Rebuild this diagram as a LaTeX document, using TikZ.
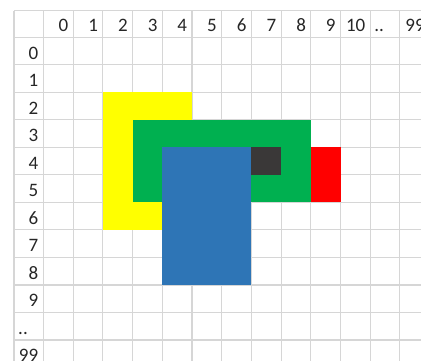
\documentclass[tikz,border=0pt]{standalone}
\usepackage{fontspec}
\setmainfont{Carlito}
\definecolor{gridgray}{RGB}{214, 214, 214}
\definecolor{cellyellow}{RGB}{255, 255, 0}
\definecolor{cellgreen}{RGB}{0, 176, 80}
\definecolor{cellblue}{RGB}{46, 117, 182}
\definecolor{cellred}{RGB}{255, 0, 0}
\definecolor{celldark}{RGB}{58, 56, 56}
\usetikzlibrary{positioning, calc}
\tikzset{
  gridline/.style={draw=gridgray, line width=1.1pt},
  colhead/.style={anchor=base east, inner sep=0pt, text=black!85, font=\fontsize{19}{19}\selectfont},
  rowhead/.style={colhead},
  dotlabel/.style={colhead, anchor=base west},
}

\begin{document}
\begin{tikzpicture}[x=29.7pt, y=-27.52pt]
  \useasboundingbox (-1.4646,-1.3554) rectangle (12.7104,11.726);
  \clip (-1.4646,-1.3554) rectangle (12.7104,11.726);
  % sheet grid
  \draw[gridline] (-0.9933,-0.9666) -- (-0.9933,12);
  \foreach \c in {0,...,13}
    \draw[gridline] (\c,-0.9666) -- (\c,12);
  \draw[gridline] (-0.9933,-0.9666) -- (14,-0.9666);
  \foreach \r in {0,...,12}
    \draw[gridline] (-0.9933,\r) -- (14,\r);
  % filled ranges
  \fill[cellyellow] (2,2) rectangle (5,7);
  \fill[cellgreen] (3,3) rectangle (9,6);
  \fill[cellblue] (4,4) rectangle (7,9);
  \fill[celldark] (7,4) rectangle (8,5);
  \fill[cellred] (9,4) rectangle (10,6);
  % headers
  \foreach \k in {0,...,10}
    \node[colhead] (col\k) at (\k+0.842,-0.203) {\k};
  \node[dotlabel] (coldots) at (11.135,-0.203) {..};
  \node[colhead] (col99) at (12.842,-0.203) {99};
  \foreach \r in {0,...,9}
    \node[rowhead] (row\r) at (-0.17,\r+0.793) {\r};
  \node[dotlabel] (rowdots) at (-0.858,10.793) {..};
  \node[rowhead] (row99) at (-0.17,11.793) {99};
\end{tikzpicture}
\end{document}
